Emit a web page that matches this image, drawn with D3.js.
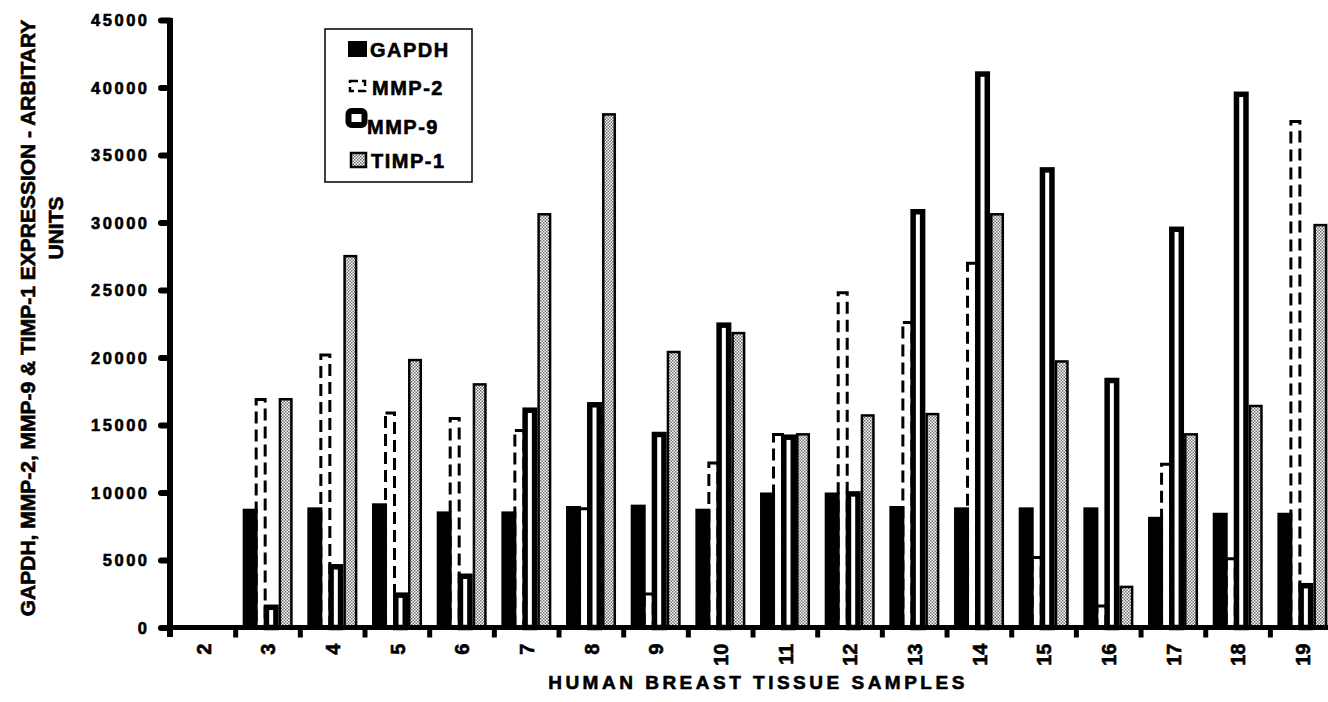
<!DOCTYPE html>
<html>
<head>
<meta charset="utf-8">
<script src="https://cdn.jsdelivr.net/npm/d3@7"></script>
<style>
  html, body { margin: 0; padding: 0; background: #fff; }
  svg { display: block; font-family: "Liberation Sans", Arial, sans-serif; }
</style>
</head>
<body>
<svg id="chart" width="1328" height="702"></svg>
<script>
// ---- data ----
const categories = ["2","3","4","5","6","7","8","9","10","11","12","13","14","15","16","17","18","19"];
const seriesNames = ["GAPDH", "MMP-2", "MMP-9", "TIMP-1"];
const gapdh = [0, 8800, 8900, 9200, 8600, 8600, 9000, 9100, 8800, 10000, 10000, 9000, 8900, 8900, 8900, 8200, 8500, 8500];
const mmp2  = [0, 17000, 20300, 16000, 15600, 14700, 8900, 2600, 12300, 14400, 24900, 22700, 27100, 5300, 1700, 12200, 5200, 37600];
const mmp9  = [0, 1700, 4700, 2600, 4000, 16300, 16700, 14500, 22600, 14300, 10100, 31000, 41200, 34100, 18500, 29700, 39700, 3300];
const timp1 = [0, 17000, 27600, 19900, 18100, 30700, 38100, 20500, 21900, 14400, 15800, 15900, 30700, 19800, 3100, 14400, 16500, 29900];
const yTicks = [0, 5000, 10000, 15000, 20000, 25000, 30000, 35000, 40000, 45000];
const yTitle1 = "GAPDH, MMP-2, MMP-9 & TIMP-1 EXPRESSION - ARBITARY";
const yTitle2 = "UNITS";
const xTitle = "HUMAN BREAST TISSUE SAMPLES";

const seriesValues = { "GAPDH": gapdh, "MMP-2": mmp2, "MMP-9": mmp9, "TIMP-1": timp1 };

// ---- layout ----
const svg = d3.select("#chart");
const axisX = 170, axisY = 627.5;
const catStep = 64.67;

const x = d3.scaleBand().domain(categories)
  .range([axisX + 1, axisX + 1 + catStep * categories.length]).padding(0);
const y = d3.scaleLinear().domain([0, 45000]).range([axisY, 20]);

const xSub = d3.scaleOrdinal().domain(seriesNames).range([14.5, 25, 35.5, 50]);
const wSub = d3.scaleOrdinal().domain(seriesNames).range([15, 12, 15, 14]);

const defs = svg.append("defs");
const pat = defs.append("pattern").attr("id", "dots")
  .attr("width", 3).attr("height", 3).attr("patternUnits", "userSpaceOnUse");
pat.append("rect").attr("width", 3).attr("height", 3).attr("fill", "#fff");
pat.append("rect").attr("width", 1.5).attr("height", 1.5).attr("fill", "#6e6e6e");
pat.append("rect").attr("x", 1.5).attr("y", 1.5).attr("width", 1.5).attr("height", 1.5).attr("fill", "#6e6e6e");

const styles = {
  "GAPDH":  { fill: "#000", stroke: "none", sw: 0, dash: null },
  "MMP-2":  { fill: "#fff", stroke: "#000", sw: 3, dash: "12,6" },
  "MMP-9":  { fill: "#fff", stroke: "#000", sw: 5.5, dash: null },
  "TIMP-1": { fill: "url(#dots)", stroke: "#000", sw: 2.5, dash: null }
};

const drawOrder = ["MMP-2", "GAPDH", "MMP-9", "TIMP-1"];
const barsG = svg.append("g");
drawOrder.forEach(s => {
  const st = styles[s];
  const data = categories.map((c, i) => ({ c, v: seriesValues[s][i] })).filter(d => d.v > 0);
  barsG.append("g").selectAll("rect").data(data).join("rect")
    .attr("x", d => x(d.c) + xSub(s) - wSub(s) / 2 + st.sw / 2)
    .attr("y", d => y(d.v) + st.sw / 2)
    .attr("width", wSub(s) - st.sw)
    .attr("height", d => Math.max(0, axisY - y(d.v) - st.sw / 2))
    .attr("fill", st.fill)
    .attr("stroke", st.stroke)
    .attr("stroke-width", st.sw)
    .attr("stroke-dasharray", st.dash);
});

const heavy = sel => sel.attr("stroke", "#000").attr("stroke-width", 0.6).attr("fill", "#000");

// ---- y axis ----
const yAxis = svg.append("g").attr("transform", `translate(${axisX},0)`)
  .call(d3.axisLeft(y).tickValues(yTicks).tickSize(10).tickSizeOuter(0).tickFormat(d3.format("d")));
yAxis.select(".domain").attr("stroke-width", 6).attr("d", `M0,18V637`);
yAxis.selectAll(".tick line").attr("stroke-width", 6).attr("stroke-linecap", "round").attr("x2", -9);
yAxis.selectAll(".tick text")
  .attr("x", -20.5)
  .attr("dy", "0.36em")
  .style("font-size", "16.5px").style("font-weight", "bold").style("letter-spacing", "2.5px")
  .call(heavy);

// ---- x axis ----
const xAxis = svg.append("g").attr("transform", `translate(0,${axisY})`)
  .call(d3.axisBottom(x).tickSize(0).tickSizeOuter(0));
xAxis.select(".domain").attr("stroke-width", 5).attr("d", `M${axisX},0H1330`);
xAxis.selectAll(".tick text")
  .attr("text-anchor", "end")
  .attr("transform", "translate(0,16) rotate(-90)")
  .attr("x", 0).attr("y", 0).attr("dy", "0.36em")
  .style("font-size", "20px").style("font-weight", "bold")
  .call(heavy);
svg.append("g").selectAll("line").data(categories.slice(1)).join("line")
  .attr("x1", d => x(d)).attr("x2", d => x(d))
  .attr("y1", axisY).attr("y2", axisY + 10)
  .attr("stroke", "#000").attr("stroke-width", 5);

// ---- titles ----
svg.append("text").text(yTitle1)
  .attr("transform", "translate(35,318) rotate(-90)")
  .attr("text-anchor", "middle")
  .style("font-size", "21px").style("font-weight", "bold")
  .call(heavy);
svg.append("text").text(yTitle2)
  .attr("transform", "translate(63,228) rotate(-90)")
  .attr("text-anchor", "middle")
  .style("font-size", "21px").style("font-weight", "bold")
  .call(heavy);
svg.append("text").text(xTitle)
  .attr("x", 758).attr("y", 689)
  .attr("text-anchor", "middle")
  .style("font-size", "19px").style("font-weight", "bold").style("letter-spacing", "3.5px")
  .call(heavy);

// ---- legend ----
const lg = svg.append("g");
lg.append("rect").attr("x", 325).attr("y", 29).attr("width", 147).attr("height", 153)
  .attr("fill", "#fff").attr("stroke", "#000").attr("stroke-width", 1.5);
const legendRows = [
  { s: "GAPDH", base: 57, tx: 370 },
  { s: "MMP-2", base: 95, tx: 372 },
  { s: "MMP-9", base: 134, tx: 367 },
  { s: "TIMP-1", base: 168, tx: 371 }
];
legendRows.forEach(r => {
  const st = styles[r.s];
  if (r.s === "GAPDH") {
    lg.append("rect").attr("x", 348).attr("y", r.base - 16).attr("width", 19).attr("height", 16).attr("fill", "#000");
  } else if (r.s === "MMP-2") {
    lg.append("rect").attr("x", 350).attr("y", r.base - 14).attr("width", 15).attr("height", 10)
      .attr("fill", "#fff").attr("stroke", "#000").attr("stroke-width", 2.5).attr("stroke-dasharray", "8,4");
  } else if (r.s === "MMP-9") {
    lg.append("rect").attr("x", 348.5).attr("y", r.base - 23).attr("width", 16).attr("height", 14).attr("rx", 3)
      .attr("fill", "#fff").attr("stroke", "#000").attr("stroke-width", 6);
  } else {
    lg.append("rect").attr("x", 351).attr("y", r.base - 15).attr("width", 15).attr("height", 14)
      .attr("fill", st.fill).attr("stroke", "#000").attr("stroke-width", 2.5);
  }
  lg.append("text").text(r.s).attr("x", r.tx).attr("y", r.base)
    .style("font-size", "20px").style("font-weight", "bold").style("letter-spacing", "1.5px")
    .call(heavy);
});
</script>
</body>
</html>
